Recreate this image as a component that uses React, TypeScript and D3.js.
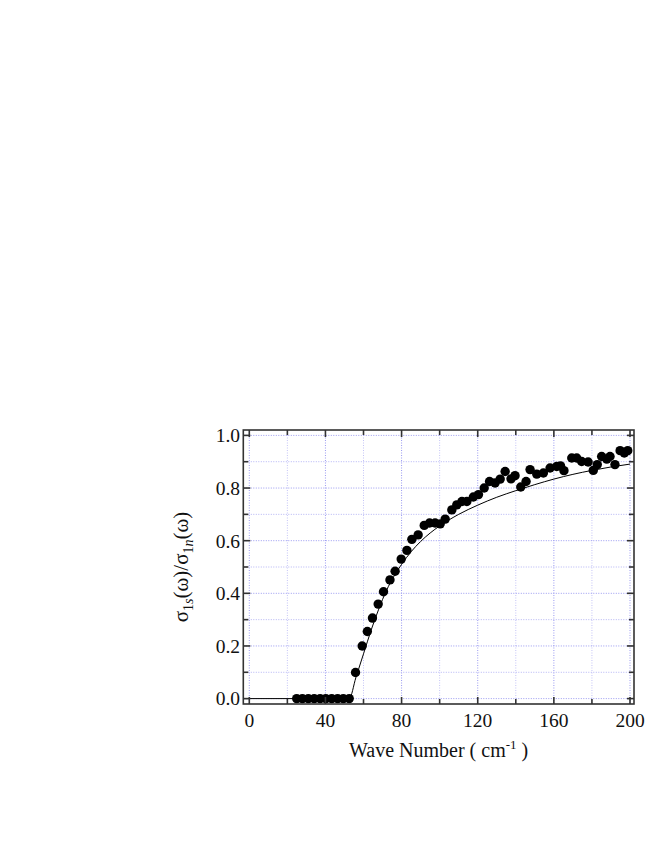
import React from "react";
import * as d3 from "d3";

// Measured data points (wave number, ratio)
const waveNumbers: number[] = [
  24.9, 27.9, 31.0, 34.1, 37.2, 40.2, 43.3, 46.4, 49.4, 52.5,
  55.8, 59.3, 62.0, 64.7, 67.7, 70.5, 73.9, 76.6, 79.8, 82.8,
  85.4, 88.7, 91.9, 94.7, 97.6, 100.3, 102.9, 106.4, 109.0, 111.7,
  114.3, 117.7, 120.4, 123.4, 126.2, 129.1, 131.8, 134.4, 137.5, 139.6,
  142.6, 145.4, 147.5, 151.0, 154.5, 158.0, 161.5, 163.5, 165.3, 169.4,
  172.0, 174.6, 178.0, 180.7, 182.8, 185.1, 187.8, 189.5, 192.1, 194.8,
  197.0, 198.8,
];
const ratios: number[] = [
  0, 0, 0, 0, 0, 0, 0, 0, 0, 0,
  0.099, 0.2, 0.255, 0.306, 0.359, 0.406, 0.451, 0.484, 0.53, 0.563,
  0.605, 0.622, 0.658, 0.667, 0.667, 0.664, 0.682, 0.717, 0.736, 0.749,
  0.749, 0.766, 0.775, 0.8, 0.825, 0.819, 0.834, 0.863, 0.835, 0.847,
  0.804, 0.825, 0.87, 0.853, 0.857, 0.876, 0.882, 0.884, 0.866, 0.914,
  0.914, 0.901, 0.899, 0.867, 0.889, 0.92, 0.91, 0.92, 0.889, 0.942,
  0.933, 0.942,
];

// Fitted (theory) curve
const fitX: number[] = [-3.1, 52.5, 56, 60, 64, 68, 72, 76, 80, 85, 90, 95, 100, 110, 120, 130, 140, 150, 160, 170, 180, 190, 200];
const fitY: number[] = [0, 0, 0.08, 0.17, 0.26, 0.34, 0.41, 0.465, 0.51, 0.558, 0.597, 0.629, 0.656, 0.7, 0.735, 0.765, 0.79, 0.813, 0.834, 0.852, 0.867, 0.88, 0.891];

const xTicks: number[] = [0, 40, 80, 120, 160, 200];
const xMinorTicks: number[] = [0, 20, 40, 60, 80, 100, 120, 140, 160, 180, 200];
const yTicks: number[] = [0, 0.2, 0.4, 0.6, 0.8, 1.0];
const yMinorTicks: number[] = [0, 0.1, 0.2, 0.3, 0.4, 0.5, 0.6, 0.7, 0.8, 0.9, 1.0];

const W = 654;
const H = 846;
const L = 243.3, R = 634, T = 430, B = 704;

export default function App() {
  const x = d3.scaleLinear().domain([-3.15, 202.1]).range([L, R]);
  const y = d3.scaleLinear().domain([-0.0205, 1.0205]).range([B, T]);
  const font = "'Liberation Serif', 'Times New Roman', serif";

  const fitData = fitX.map((v, i) => [v, fitY[i]] as [number, number]);
  const line = d3
    .line<[number, number]>()
    .x((d) => x(d[0]))
    .y((d) => y(d[1]))
    .curve(d3.curveMonotoneX);

  const isMajorY = (v: number) => Math.abs(Math.round(v * 10) % 2) === 0;
  const isMajorX = (v: number) => v % 40 === 0;

  return (
    <svg width={W} height={H} style={{ position: "absolute", left: 0, top: 0 }}>
      <rect x={0} y={0} width={W} height={H} fill="#fff" />
      {/* grid */}
      <g>
        {xMinorTicks.map((v) => (
          <line
            key={"gx" + v}
            x1={x(v)}
            x2={x(v)}
            y1={T}
            y2={B}
            stroke={isMajorX(v) ? "#9a9af0" : "#c4c4f6"}
            strokeWidth={1}
            strokeDasharray="1 1.5"
          />
        ))}
        {yMinorTicks.map((v) => (
          <line
            key={"gy" + v}
            x1={L}
            x2={R}
            y1={y(v)}
            y2={y(v)}
            stroke={isMajorY(v) ? "#9a9af0" : "#b4b4f4"}
            strokeWidth={1}
            strokeDasharray="1 1.5"
          />
        ))}
      </g>
      {/* fit curve */}
      <path d={line(fitData) || ""} fill="none" stroke="#000" strokeWidth={1} />
      {/* data points */}
      <g>
        {waveNumbers.map((v, i) => (
          <circle key={"p" + i} cx={x(v)} cy={y(ratios[i])} r={4.7} fill="#000" />
        ))}
      </g>
      {/* frame */}
      <rect x={L} y={T} width={R - L} height={B - T} fill="none" stroke="#333" strokeWidth={1.6} />
      {/* ticks */}
      <g stroke="#333" strokeWidth={1.6}>
        {yMinorTicks.map((v) => {
          const len = isMajorY(v) ? 7 : 5;
          return (
            <g key={"ty" + v}>
              <line x1={L} x2={L + len} y1={y(v)} y2={y(v)} />
              <line x1={R} x2={R - len} y1={y(v)} y2={y(v)} />
            </g>
          );
        })}
        {xMinorTicks.map((v) => {
          const len = isMajorX(v) ? 7 : 5;
          return (
            <g key={"tx" + v}>
              <line x1={x(v)} x2={x(v)} y1={B} y2={B - len} />
              <line x1={x(v)} x2={x(v)} y1={T} y2={T + len} />
            </g>
          );
        })}
      </g>
      {/* tick labels */}
      <g fontFamily={font} fontSize={19.5} fill="#111">
        {yTicks.map((v) => (
          <text key={"ly" + v} x={240} y={y(v)} dy="0.35em" textAnchor="end">
            {v.toFixed(1)}
          </text>
        ))}
        {xTicks.map((v) => (
          <text key={"lx" + v} x={x(v)} y={727} textAnchor="middle">
            {v}
          </text>
        ))}
      </g>
      {/* x title */}
      <text x={(L + R) / 2} y={757} textAnchor="middle" fontFamily={font} fontSize={20} fill="#111">
        Wave Number ( cm
        <tspan dy={-8} fontSize={13}>-1</tspan>
        <tspan dy={8}> )</tspan>
      </text>
      {/* y title */}
      <text
        transform={`translate(188, ${(T + B) / 2}) rotate(-90)`}
        textAnchor="middle"
        fontFamily={font}
        fontSize={21}
        fill="#111"
      >
        σ
        <tspan dy={5} fontSize={14}>1</tspan>
        <tspan fontSize={14} fontStyle="italic">s</tspan>
        <tspan dy={-5}>(ω)/σ</tspan>
        <tspan dy={5} fontSize={14}>1</tspan>
        <tspan fontSize={14} fontStyle="italic">n</tspan>
        <tspan dy={-5}>(ω)</tspan>
      </text>
    </svg>
  );
}
